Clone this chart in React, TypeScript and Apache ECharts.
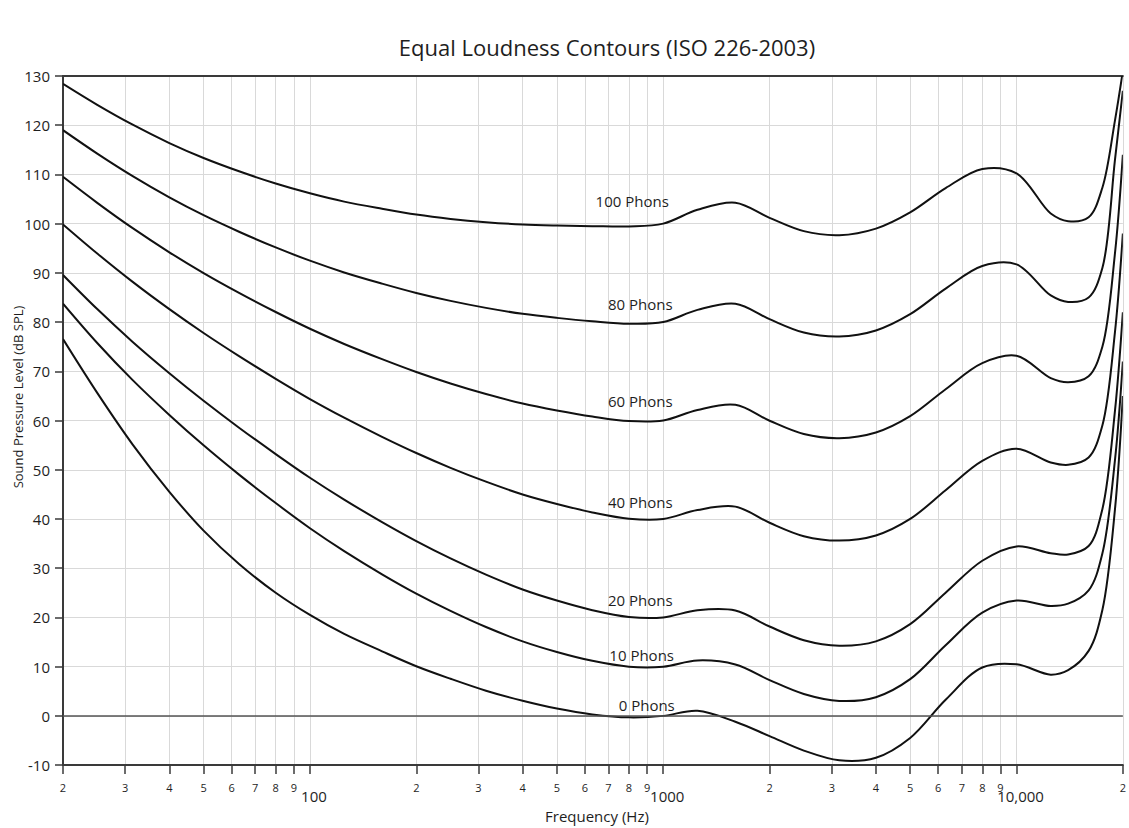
import React, { useEffect, useRef } from "react";
import * as echarts from "echarts";

// Frequencies (Hz) of the contour points
const frequencies = [20, 25, 31.5, 40, 50, 63, 80, 100, 125, 160, 200, 250, 315, 400, 500, 630, 800, 1000, 1250, 1600, 2000, 2500, 3150, 4000, 5000, 6300, 8000, 10000, 12500, 14000, 16000, 17500, 19000, 20000];

// Sound pressure level (dB SPL) of each contour
const phon0 = [76.55, 65.62, 55.12, 45.53, 37.63, 30.86, 25.02, 20.51, 16.65, 13.12, 10.09, 7.54, 5.11, 3.06, 1.48, 0.3, -0.3, 0.0, 1.04, -1.19, -4.11, -7.05, -9.03, -8.5, -4.48, 3.28, 9.83, 10.47, 8.38, 9.3, 13.2, 21.5, 42, 65];
const phon10 = [83.75, 75.76, 68.21, 61.14, 54.96, 49.01, 43.24, 38.13, 33.48, 28.77, 24.84, 21.33, 18.05, 15.14, 12.98, 11.18, 9.99, 10.0, 11.26, 10.43, 7.27, 4.45, 3.04, 3.8, 7.46, 14.35, 20.98, 23.43, 22.33, 22.8, 25.5, 33, 52, 72];
const phon20 = [89.58, 82.65, 75.98, 69.62, 64.02, 58.55, 53.19, 48.38, 43.94, 39.37, 35.51, 31.99, 28.69, 25.67, 23.43, 21.48, 20.1, 20.01, 21.46, 21.4, 18.15, 15.38, 14.26, 15.14, 18.63, 25.02, 31.52, 34.43, 33.04, 32.8, 34.5, 42, 62, 82];
const phon40 = [99.85, 93.94, 88.17, 82.63, 77.78, 73.08, 68.48, 64.37, 60.59, 56.7, 53.41, 50.4, 47.58, 44.98, 43.05, 41.34, 40.06, 40.01, 41.82, 42.51, 39.23, 36.51, 35.61, 36.65, 40.01, 45.83, 51.8, 54.28, 51.48, 51.0, 52.5, 59, 78, 98];
const phon60 = [109.51, 104.23, 99.08, 94.18, 89.96, 85.94, 82.05, 78.65, 75.56, 72.47, 69.86, 67.53, 65.39, 63.45, 62.05, 60.82, 59.89, 60.01, 62.15, 63.19, 59.96, 57.26, 56.42, 57.57, 60.89, 66.36, 71.66, 73.16, 68.63, 67.8, 69, 75, 94, 114];
const phon80 = [118.99, 114.23, 109.65, 105.34, 101.72, 98.36, 95.17, 92.48, 90.09, 87.82, 85.92, 84.31, 82.89, 81.68, 80.86, 80.17, 79.67, 80.01, 82.48, 83.74, 80.59, 77.88, 77.07, 78.31, 81.62, 86.81, 91.41, 91.74, 85.41, 84.1, 85.0, 91, 113, 127];
const phon100 = [128.41, 124.15, 120.11, 116.38, 113.35, 110.65, 108.16, 106.17, 104.48, 103.03, 101.85, 100.97, 100.3, 99.83, 99.62, 99.5, 99.44, 100.01, 102.81, 104.25, 101.18, 98.48, 97.67, 99.0, 102.3, 107.23, 111.11, 110.23, 102.07, 100.5, 101.3, 107.3, 121, 131];

// Contour names and label anchors (Hz, dB)
const contourNames = ["0 Phons", "10 Phons", "20 Phons", "40 Phons", "60 Phons", "80 Phons", "100 Phons"];
const labelFreqs = [898, 869, 861, 861, 861, 861, 817];
const labelLevels = [2.2, 12.3, 23.5, 43.5, 64.0, 83.7, 104.6];

// Axis ticks
const xTickValues = [20, 30, 40, 50, 60, 70, 80, 90, 100, 200, 300, 400, 500, 600, 700, 800, 900, 1000, 2000, 3000, 4000, 5000, 6000, 7000, 8000, 9000, 10000, 20000];
const xTickLabels = ["2", "3", "4", "5", "6", "7", "8", "9", "100", "2", "3", "4", "5", "6", "7", "8", "9", "1000", "2", "3", "4", "5", "6", "7", "8", "9", "10,000", "2"];
const majorTicks = [100, 1000, 10000];

const TITLE = "Equal Loudness Contours (ISO 226-2003)";
const X_NAME = "Frequency (Hz)";
const Y_NAME = "Sound Pressure Level (dB SPL)";

// centripetal Catmull-Rom through pixel points -> SVG path
function splinePath(pts: number[][]): string {
  const a = 0.5;
  const eps = 1e-9;
  let d = `M${pts[0][0]},${pts[0][1]}`;
  for (let i = 0; i < pts.length - 1; i++) {
    const p0 = pts[i - 1] || pts[i];
    const p1 = pts[i];
    const p2 = pts[i + 1];
    const p3 = pts[i + 2] || pts[i + 1];
    const l01 = Math.pow(Math.hypot(p1[0] - p0[0], p1[1] - p0[1]), a);
    const l12 = Math.pow(Math.hypot(p2[0] - p1[0], p2[1] - p1[1]), a);
    const l23 = Math.pow(Math.hypot(p3[0] - p2[0], p3[1] - p2[1]), a);
    let c1x = p1[0], c1y = p1[1], c2x = p2[0], c2y = p2[1];
    if (l01 > eps) {
      const A = 2 * l01 * l01 + 3 * l01 * l12 + l12 * l12;
      const N = 3 * l01 * (l01 + l12);
      c1x = (p1[0] * A - p0[0] * l12 * l12 + p2[0] * l01 * l01) / N;
      c1y = (p1[1] * A - p0[1] * l12 * l12 + p2[1] * l01 * l01) / N;
    }
    if (l23 > eps) {
      const B = 2 * l23 * l23 + 3 * l23 * l12 + l12 * l12;
      const M = 3 * l23 * (l23 + l12);
      c2x = (p2[0] * B + p1[0] * l23 * l23 - p3[0] * l12 * l12) / M;
      c2y = (p2[1] * B + p1[1] * l23 * l23 - p3[1] * l12 * l12) / M;
    }
    d += ` C${c1x},${c1y} ${c2x},${c2y} ${p2[0]},${p2[1]}`;
  }
  return d;
}

export default function App() {
  const ref = useRef<HTMLDivElement>(null);

  useEffect(() => {
    const chart = echarts.init(ref.current!, null, { renderer: "svg" });
    const font = "'Open Sans', 'Noto Sans', sans-serif";
    const textColor = "#1e1e1e";
    const axisColor = "#3a3a3a";
    const gridColor = "#d9d9d9";
    const contours = [phon0, phon10, phon20, phon40, phon60, phon80, phon100];

    const findLabel = (v: number) => {
      let best = 0;
      let bd = Infinity;
      xTickValues.forEach((t, i) => {
        const d = Math.abs(Math.log10(t) - Math.log10(v));
        if (d < bd) {
          bd = d;
          best = i;
        }
      });
      const isMajor = majorTicks.indexOf(xTickValues[best]) >= 0;
      return isMajor ? `{mj|${xTickLabels[best]}}` : `{mn|${xTickLabels[best]}}`;
    };

    chart.setOption({
      animation: false,
      backgroundColor: "#fff",
      grid: { left: 63, top: 76, width: 1067, height: 690, containLabel: false },
      graphic: [
        {
          type: "text",
          x: 607,
          y: 47,
          style: {
            text: TITLE,
            fontSize: 22,
            fontFamily: font,
            fill: textColor,
            align: "center",
            verticalAlign: "middle",
          },
        },
        {
          type: "text",
          x: 18,
          y: 397,
          rotation: Math.PI / 2,
          style: {
            text: Y_NAME,
            fontSize: 13,
            fontFamily: font,
            fill: textColor,
            align: "center",
            verticalAlign: "middle",
          },
        },
      ],
      xAxis: [
        {
          type: "log",
          logBase: 10,
          min: 20,
          max: 20000,
          position: "bottom",
          name: X_NAME,
          nameLocation: "middle",
          nameGap: 42,
          nameTextStyle: { fontSize: 15, color: textColor, fontFamily: font, padding: [0, 0, 0, 8] },
          axisLine: { show: true, onZero: false, lineStyle: { color: axisColor, width: 2 } },
          axisTick: { show: true, customValues: xTickValues, length: 9, lineStyle: { color: axisColor, width: 1.5 } },
          axisLabel: {
            show: true,
            customValues: xTickValues,
            margin: 16,
            formatter: (v: number) => findLabel(v),
            rich: {
              mn: { fontSize: 11, lineHeight: 13, color: textColor, fontFamily: font },
              mj: { fontSize: 15, lineHeight: 18, color: textColor, fontFamily: font, padding: [11, 0, 0, 8] },
            },
          },
          splitLine: { show: true, lineStyle: { color: gridColor, width: 1 } },
          minorTick: { show: false },
          minorSplitLine: { show: false },
        },
        {
          type: "log",
          logBase: 10,
          min: 20,
          max: 20000,
          position: "top",
          axisLine: { show: true, onZero: false, lineStyle: { color: axisColor, width: 2 } },
          axisTick: { show: false },
          axisLabel: { show: false },
          splitLine: { show: false },
        },
      ],
      yAxis: {
        type: "value",
        min: -10,
        max: 130,
        interval: 10,
        axisLine: { show: true, onZero: false, lineStyle: { color: axisColor, width: 2 } },
        axisTick: { show: true, length: 8, lineStyle: { color: axisColor, width: 1.5 } },
        axisLabel: { margin: 13, fontSize: 15, color: textColor, fontFamily: font },
        splitLine: { show: true, lineStyle: { color: gridColor, width: 1 } },
      },
      series: [
        {
          type: "custom",
          name: "contours",
          clip: true,
          silent: true,
          z: 3,
          encode: { x: 0, y: 1 },
          data: contours.map((_, k) => [1000, 50, k]),
          renderItem: (params: any, api: any) => {
            const k = params.dataIndex;
            const vals = contours[k];
            const pts = frequencies.map((f, i) => api.coord([f, vals[i]]));
            const lp = api.coord([labelFreqs[k], labelLevels[k]]);
            const cs = params.coordSys;
            return {
              type: "group",
              children: [
                {
                  type: "path",
                  clipPath: { type: "rect", shape: { x: cs.x, y: cs.y, width: cs.width, height: cs.height } },
                  shape: { pathData: splinePath(pts) },
                  style: { fill: "none", stroke: "#111", lineWidth: 2 },
                },
                {
                  type: "text",
                  x: lp[0],
                  y: lp[1],
                  style: {
                    text: contourNames[k],
                    fill: textColor,
                    fontSize: 15,
                    fontFamily: font,
                    align: "center",
                    verticalAlign: "middle",
                  },
                },
              ],
            };
          },
        },
        {
          type: "line",
          name: "zero",
          silent: true,
          data: [],
          markLine: {
            silent: true,
            symbol: ["none", "none"],
            label: { show: false },
            lineStyle: { color: "#555", width: 1.5, type: "solid" },
            data: [{ yAxis: 0 }],
          },
        },
      ],
    });

    return () => chart.dispose();
  }, []);

  return (
    <div
      ref={ref}
      style={{ position: "absolute", left: 0, top: 0, width: 1129, height: 828 }}
    />
  );
}
